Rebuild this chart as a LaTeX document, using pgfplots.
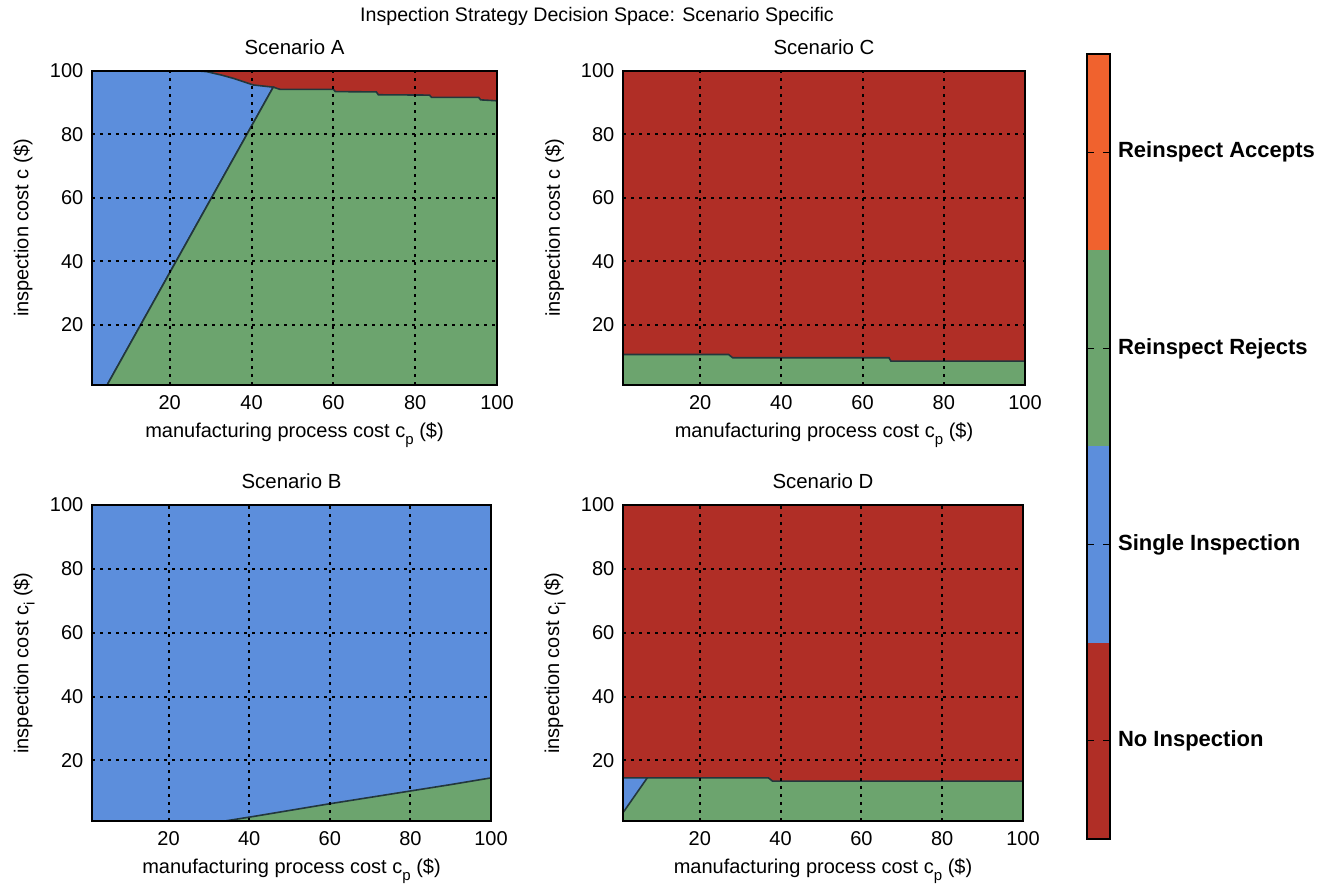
\documentclass[border=0pt]{standalone}
\usepackage{fontspec}
\setmainfont{Liberation Sans}
\usepackage{pgfplots}
\pgfplotsset{compat=1.18}
\definecolor{cNo}{RGB}{176,46,38}
\definecolor{cSingle}{RGB}{92,142,220}
\definecolor{cRej}{RGB}{108,164,110}
\definecolor{cAcc}{RGB}{240,98,46}
\definecolor{cEdge}{RGB}{35,55,60}
\pgfplotsset{
 scen/.style={
   scale only axis, anchor=south west,
   xmin=1,xmax=100,ymin=1,ymax=100,
   xtick={20,40,60,80,100}, ytick={20,40,60,80,100},
   grid=major,
   major grid style={black, line width=1pt, dash pattern=on 1.3pt off 2.7pt},
   major tick length=0pt,
   axis on top,
   axis line style={black, line width=0.8pt},
   tick label style={font=\fontsize{10}{12}\selectfont, black},
   /pgf/number format/assume math mode=true,
   xticklabel style={yshift=-1.5pt},
   yticklabel style={xshift=-0.8pt},
   label style={font=\fontsize{10}{12}\selectfont},
   title style={font=\fontsize{10.2}{12}\selectfont, at={(axis description cs:0.5,1)}, anchor=center, yshift=6pt},
   xlabel style={at={(axis description cs:0.5,0)}, anchor=center, yshift=-25pt},
   ylabel style={at={(axis description cs:-0.17,0.5)}, anchor=center},
   xlabel={manufacturing process cost c\raisebox{-0.6ex}{\fontsize{7.5}{8}\selectfont p} (\$)},
 },
 reg/.style={fill=#1, draw=cEdge, line width=0.8pt},
}
\begin{document}
\begin{tikzpicture}
\path[use as bounding box] (0,0) rectangle (664pt,443pt);
\node[font=\fontsize{9.8}{12}\selectfont] at (298.5pt,435pt) {Inspection Strategy Decision Space: Scenario Specific};

% Scenario A
\begin{axis}[scen, at={(46pt,250.5pt)}, width=202.5pt, height=157pt,
  title={Scenario A}, ylabel={inspection cost c (\$)}]
\addplot[reg=cNo] coordinates {(1,1)(100,1)(100,100)(1,100)} -- cycle;
\addplot[reg=cSingle] coordinates {(1,1)(4.7,1)(45.3,94.9)(40.4,95.6)(35.5,97.7)(32.7,98.7)(29,99.8)(27,100)(1,100)} -- cycle;
\addplot[reg=cRej] coordinates {(4.7,1)(100,1)(100,90.6)(96,90.9)(95.5,91.7)(84,91.7)(83.5,92.4)(71,92.5)(70.5,93.4)(60.5,93.5)(60,94.2)(47,94.2)(45.3,94.9)} -- cycle;
\end{axis}

% Scenario C
\begin{axis}[scen, at={(311.5pt,250.5pt)}, width=201pt, height=157pt,
  title={Scenario C}, ylabel={inspection cost c (\$)}]
\addplot[reg=cNo] coordinates {(1,1)(100,1)(100,100)(1,100)} -- cycle;
\addplot[reg=cRej] coordinates {(1,1)(100,1)(100,8.5)(67,8.5)(66.5,9.6)(28,9.6)(27,10.6)(1,10.6)} -- cycle;
\end{axis}

% Scenario B
\begin{axis}[scen, at={(46pt,32.5pt)}, width=199.5pt, height=158pt,
  title={Scenario B}, ylabel={inspection cost c\raisebox{-0.6ex}{\fontsize{7.5}{8}\selectfont i} (\$)}]
\addplot[reg=cSingle] coordinates {(1,1)(100,1)(100,100)(1,100)} -- cycle;
\addplot[reg=cRej] coordinates {(34,1)(100,1)(100,14.5)(90,12.4)(80,10.4)(70,8.4)(60,6.4)(50,4.3)(40,2.2)} -- cycle;
\end{axis}

% Scenario D
\begin{axis}[scen, at={(311.5pt,32.5pt)}, width=200pt, height=158pt,
  title={Scenario D}, ylabel={inspection cost c\raisebox{-0.6ex}{\fontsize{7.5}{8}\selectfont i} (\$)}]
\addplot[reg=cNo] coordinates {(1,1)(100,1)(100,100)(1,100)} -- cycle;
\addplot[reg=cRej] coordinates {(1,1)(100,1)(100,13.5)(38,13.5)(37,14.5)(1,14.5)} -- cycle;
\addplot[reg=cSingle] coordinates {(1,3.6)(7,14.5)(1,14.5)} -- cycle;
\end{axis}

% Colour bar
\begin{axis}[scale only axis, anchor=south west, at={(543.5pt,23.5pt)}, width=11.5pt, height=392.5pt,
  xmin=0, xmax=1, ymin=0, ymax=4, xtick=\empty,
  ytick={0.5,1.5,2.5,3.5},
  yticklabels={No Inspection, Single Inspection, Reinspect Rejects, Reinspect Accepts},
  yticklabel pos=right, ytick pos=both, tick align=inside, major tick length=3.5pt,
  tick style={black, line width=0.6pt},
  axis on top, axis line style={black, line width=0.8pt},
  yticklabel style={font=\fontsize{11}{13}\selectfont\bfseries, anchor=west, xshift=0.5pt}]
\addplot[fill=cNo, draw=none] coordinates {(0,0)(1,0)(1,1)(0,1)} -- cycle;
\addplot[fill=cSingle, draw=none] coordinates {(0,1)(1,1)(1,2)(0,2)} -- cycle;
\addplot[fill=cRej, draw=none] coordinates {(0,2)(1,2)(1,3)(0,3)} -- cycle;
\addplot[fill=cAcc, draw=none] coordinates {(0,3)(1,3)(1,4)(0,4)} -- cycle;
\end{axis}
\end{tikzpicture}
\end{document}
